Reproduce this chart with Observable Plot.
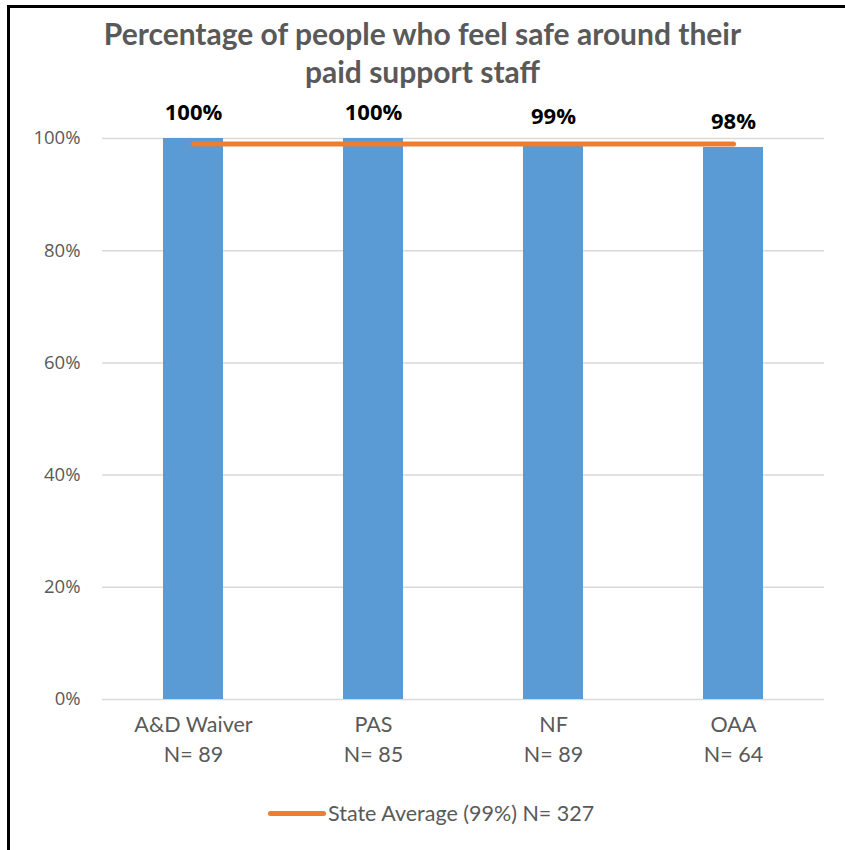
<!DOCTYPE html>
<html>
<head>
<meta charset="utf-8">
<script src="https://cdn.jsdelivr.net/npm/d3@7"></script>
<script src="https://cdn.jsdelivr.net/npm/@observablehq/plot@0.6"></script>
<style>
  html, body { margin: 0; padding: 0; background: #fff; }
  #page { position: relative; width: 845px; height: 850px; overflow: hidden; background: #fff; }
  #border { position: absolute; left: 7px; top: 5px; right: -10px; bottom: -10px; border-top: 3px solid #000; border-left: 3px solid #000; pointer-events: none; }
  #title { position: absolute; left: 0; top: 14px; width: 845px; text-align: center; font-family: Lato, "Open Sans", sans-serif; font-weight: bold; font-size: 30px; line-height: 38px; color: #595959; }
  #chart { position: absolute; left: 0; top: 95px; }
  #legend { position: absolute; left: 268px; top: 800px; height: 26px; display: flex; align-items: center; font-family: Lato, "Open Sans", sans-serif; font-size: 21.5px; color: #595959; }
  #legend .swatch { width: 58px; height: 5px; background: #ED7D31; border-radius: 2.5px; margin-right: 2px; }
</style>
</head>
<body>
<div id="page">
  <div id="title">Percentage of people who feel safe around their<br>paid support staff</div>
  <div id="chart"></div>
  <div id="legend"><div class="swatch"></div><span>State Average (99%) N= 327</span></div>
  <div id="border"></div>
</div>
<script>
const categories = ["A&D Waiver", "PAS", "NF", "OAA"];
const sampleSizes = ["N= 89", "N= 85", "N= 89", "N= 64"];
const values = [100, 100, 99.2, 98.4];
const valueLabels = ["100%", "100%", "99%", "98%"];
const stateAverage = 99;
const yTicks = [0, 20, 40, 60, 80, 100];

const data = categories.map((c, i) => ({cat: c, n: sampleSizes[i], v: values[i], label: valueLabels[i], avg: stateAverage}));

const chart = Plot.plot({
  width: 845,
  height: 700,
  marginTop: 43,
  marginBottom: 96,
  marginLeft: 102,
  marginRight: 21,
  style: {background: "transparent", overflow: "visible"},
  x: {domain: categories, paddingInner: 0.667, paddingOuter: 0.333, axis: null},
  y: {domain: [0, 100], axis: null},
  marks: [
    Plot.ruleY(yTicks, {stroke: "#D9D9D9", strokeWidth: 1.5}),
    Plot.text(yTicks, {y: d => d, frameAnchor: "left", dx: -22, textAnchor: "end", text: d => d + "%", fill: "#595959", fontSize: 18.5, fontFamily: "Open Sans, sans-serif"}),
    Plot.barY(data, {x: "cat", y: "v", fill: "#5B9BD5"}),
    Plot.line(data, {x: "cat", y: "avg", stroke: "#ED7D31", strokeWidth: 5, strokeLinecap: "round"}),
    Plot.text(data, {x: "cat", y: "v", dy: -26, text: "label", fill: "#000", fontWeight: "bold", fontSize: 22, fontFamily: "Open Sans, sans-serif", stroke: "white", strokeWidth: 12, strokeLinejoin: "miter", paintOrder: "stroke"}),
    Plot.text(data, {x: "cat", frameAnchor: "bottom", dy: 32, text: "cat", fill: "#595959", fontSize: 21.5, fontFamily: "Lato, Open Sans, sans-serif"}),
    Plot.text(data, {x: "cat", frameAnchor: "bottom", dy: 62, text: "n", fill: "#595959", fontSize: 21.5, fontFamily: "Lato, Open Sans, sans-serif"})
  ]
});
document.getElementById("chart").appendChild(chart);
</script>
</body>
</html>
